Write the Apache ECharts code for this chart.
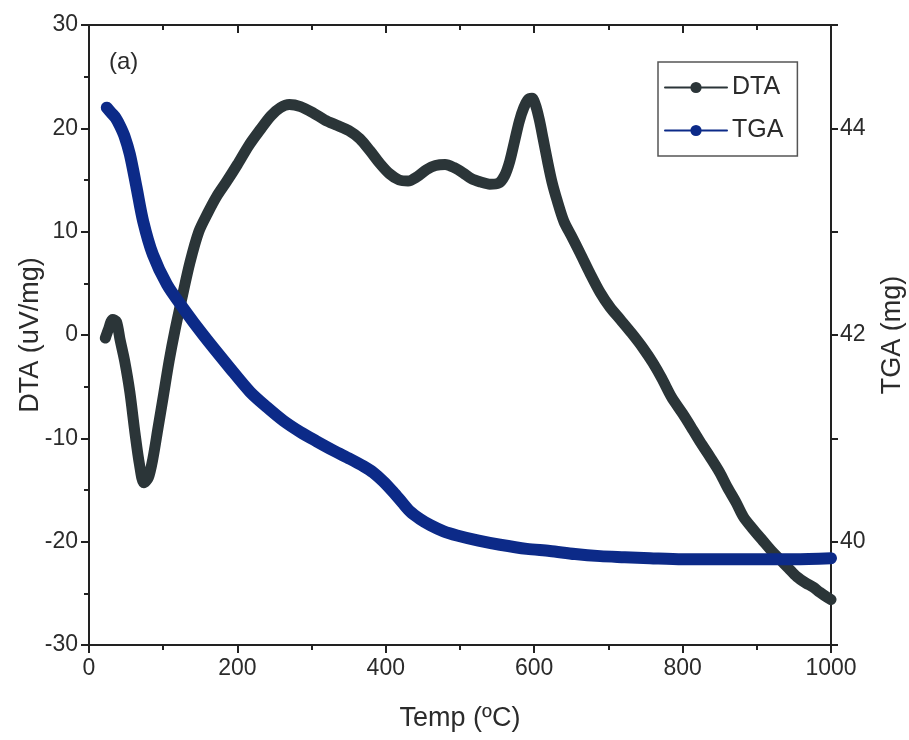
<!DOCTYPE html>
<html>
<head>
<meta charset="utf-8">
<script src="https://cdn.jsdelivr.net/npm/echarts@6/dist/echarts.min.js"></script>
<style>
html,body{margin:0;padding:0;background:#fff;}
#chart{width:909px;height:740px;}
</style>
</head>
<body>
<div id="chart"></div>
<script>
// Temperature (°C) and DTA (uV/mg)
var dtaTemp = [22, 26, 32, 37, 42, 48, 55, 62, 68, 74, 80, 86, 93, 100, 108, 116, 125, 136, 148, 160, 172, 185, 200, 215, 230, 245, 258, 270, 285, 302, 318, 334, 350, 365, 379, 392, 405, 418, 430, 442, 455, 467, 480, 492, 504, 516, 528, 540, 552, 560, 567, 574, 580, 586, 592, 597, 602, 607, 612, 618, 624, 631, 640, 650, 662, 675, 689, 702, 716, 731, 747, 760, 772, 785, 800, 814, 826, 837, 850, 860, 872, 882, 895, 908, 920, 931, 943, 954, 966, 976, 985, 995, 1000];
var dtaValues = [-0.3, 0.5, 1.5, 1.3, -0.5, -2.5, -5.5, -9.5, -12.5, -14.3, -13.8, -12, -9, -6, -2.5, 0.5, 3.5, 7, 10, 11.8, 13.4, 14.8, 16.5, 18.3, 19.8, 21.2, 22, 22.3, 22.1, 21.5, 20.8, 20.3, 19.8, 19.0, 17.8, 16.6, 15.6, 15.0, 14.9, 15.3, 16.0, 16.4, 16.5, 16.2, 15.7, 15.1, 14.8, 14.6, 14.7, 15.4, 16.8, 18.9, 20.7, 22, 22.8, 22.9, 22.2, 20.8, 19, 16.8, 14.8, 13, 11, 9.6, 7.9, 6.0, 4.1, 2.7, 1.5, 0.2, -1.3, -2.7, -4.2, -6.0, -7.6, -9.2, -10.6, -11.8, -13.3, -14.7, -16.2, -17.6, -18.8, -19.9, -20.9, -21.7, -22.6, -23.4, -24.0, -24.4, -24.9, -25.4, -25.6];
// Temperature (°C) and TGA (mg)
var tgaTemp = [24, 30, 36, 42, 48, 55, 64, 73, 86, 105, 127, 154, 190, 217, 240, 262, 285, 307, 330, 352, 370, 383, 397, 410, 422, 433, 446, 460, 478, 496, 525, 554, 590, 621, 655, 689, 722, 756, 800, 850, 900, 950, 1000];
var tgaValues = [44.2, 44.15, 44.1, 44.02, 43.92, 43.75, 43.43, 43.1, 42.78, 42.49, 42.26, 42.0, 41.68, 41.45, 41.3, 41.17, 41.06, 40.97, 40.88, 40.8, 40.73, 40.67, 40.58, 40.48, 40.38, 40.29, 40.22, 40.16, 40.1, 40.06, 40.01, 39.97, 39.93, 39.91, 39.88, 39.86, 39.85, 39.84, 39.83, 39.83, 39.83, 39.83, 39.84];
var xTicks = {min: 0, max: 1000, step: 200};
var dtaTicks = {min: -30, max: 30, step: 10};
var tgaTicks = {min: 39, max: 45, step: 1};

function pairs(xs, ys){ return xs.map(function(x,i){ return [x, ys[i]]; }); }

var FONT = '"Liberation Sans", Arial, sans-serif';
var TXT = '#2b2b2b';
var AX = '#222';
var DTA_C = '#2b3538';
var TGA_C = '#0c2a88';

var chart = echarts.init(document.getElementById('chart'), null, {renderer: 'canvas'});
chart.setOption({
  backgroundColor: '#fff',
  animation: false,
  textStyle: {fontFamily: FONT},
  title: {
    text: '(a)', left: 104, top: 45,
    textStyle: {fontSize: 24, fontWeight: 'normal', color: TXT, fontFamily: FONT}
  },
  legend: {
    orient: 'vertical', left: 658, top: 62,
    padding: [13, 14, 13, 6],
    itemWidth: 62, itemHeight: 14, itemGap: 18,
    borderColor: '#555', borderWidth: 1.5,
    lineStyle: {width: 2},
    textStyle: {fontSize: 25, color: TXT, fontFamily: FONT},
    data: ['DTA', 'TGA']
  },
  grid: {left: 89, right: 78, top: 25, bottom: 95, containLabel: false, outerBoundsMode: 'none'},
  xAxis: [{
    type: 'value', position: 'bottom',
    min: xTicks.min, max: xTicks.max, interval: xTicks.step,
    name: 'Temp (ºC)', nameLocation: 'middle', nameGap: 60, nameMoveOverlap: false,
    nameTextStyle: {fontSize: 27, color: TXT, fontFamily: FONT},
    axisLine: {show: true, onZero: false, lineStyle: {color: AX, width: 2}},
    axisTick: {show: true, inside: false, length: 8, lineStyle: {color: AX, width: 2}},
    minorTick: {show: true, splitNumber: 2, length: 5, lineStyle: {color: AX, width: 2}},
    axisLabel: {fontSize: 23, color: TXT, margin: 12, fontFamily: FONT,
      formatter: function(v){ return String(v); }},
    splitLine: {show: false}
  }, {
    type: 'value', position: 'top',
    min: xTicks.min, max: xTicks.max, interval: xTicks.step,
    axisLine: {show: true, onZero: false, lineStyle: {color: AX, width: 2}},
    axisTick: {show: true, inside: true, length: 8, lineStyle: {color: AX, width: 2}},
    minorTick: {show: true, splitNumber: 2, length: 5, lineStyle: {color: AX, width: 2}},
    axisLabel: {show: false},
    splitLine: {show: false}
  }],
  yAxis: [{
    type: 'value', position: 'left',
    min: dtaTicks.min, max: dtaTicks.max, interval: dtaTicks.step,
    name: 'DTA (uV/mg)', nameLocation: 'middle', nameGap: 45, nameRotate: 90, nameMoveOverlap: false,
    nameTextStyle: {fontSize: 27, color: TXT, fontFamily: FONT},
    axisLine: {show: true, onZero: false, lineStyle: {color: AX, width: 2}},
    axisTick: {show: true, inside: false, length: 8, lineStyle: {color: AX, width: 2}},
    minorTick: {show: true, splitNumber: 2, length: 5, lineStyle: {color: AX, width: 2}},
    axisLabel: {fontSize: 23, color: TXT, margin: 11, fontFamily: FONT},
    splitLine: {show: false}
  }, {
    type: 'value', position: 'right',
    min: tgaTicks.min, max: tgaTicks.max, interval: tgaTicks.step,
    name: 'TGA (mg)', nameLocation: 'middle', nameGap: 48, nameRotate: 90, nameMoveOverlap: false,
    nameTextStyle: {fontSize: 27, color: TXT, fontFamily: FONT},
    axisLine: {show: true, onZero: false, lineStyle: {color: AX, width: 2}},
    axisTick: {show: true, inside: false, length: 7, lineStyle: {color: AX, width: 2}},
    axisLabel: {fontSize: 23, color: TXT, margin: 9, fontFamily: FONT,
      formatter: function(v){ return (v % 2 === 0) ? String(v) : ''; }},
    splitLine: {show: false}
  }],
  series: [{
    name: 'DTA', type: 'line', xAxisIndex: 0, yAxisIndex: 0,
    data: pairs(dtaTemp, dtaValues),
    smooth: 0.3, symbol: 'circle', symbolSize: 10, showSymbol: false,
    lineStyle: {color: DTA_C, width: 11, cap: 'round', join: 'round'},
    itemStyle: {color: DTA_C},
    z: 2
  }, {
    name: 'TGA', type: 'line', xAxisIndex: 0, yAxisIndex: 1,
    data: pairs(tgaTemp, tgaValues),
    smooth: 0.3, symbol: 'circle', symbolSize: 14, showSymbol: false,
    lineStyle: {color: TGA_C, width: 12, cap: 'round', join: 'round'},
    itemStyle: {color: TGA_C},
    z: 3
  }]
});
</script>
</body>
</html>
